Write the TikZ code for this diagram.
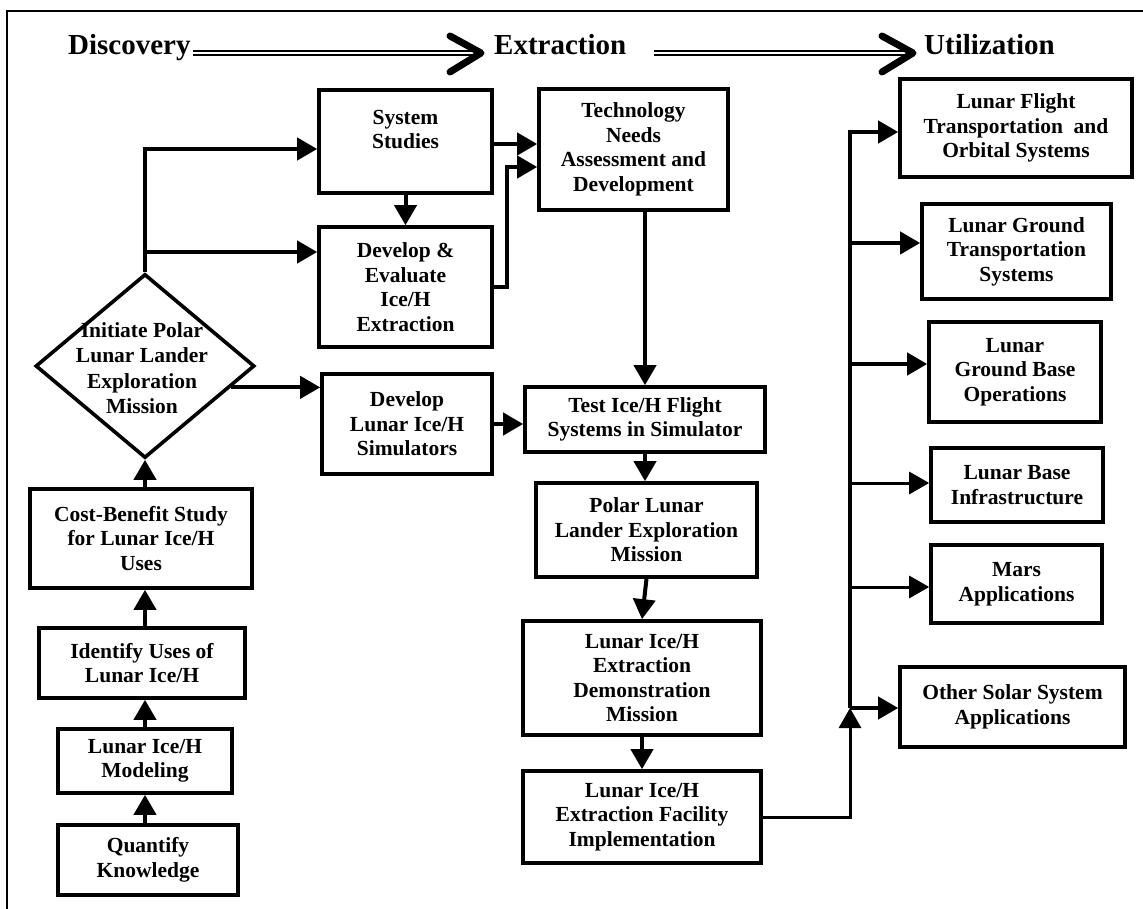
\documentclass[tikz,border=0pt]{standalone}
\usepackage{fontspec}
\setmainfont{Liberation Serif}
\usetikzlibrary{arrows.meta,shapes.geometric,calc}
\begin{document}
\begin{tikzpicture}[x=1pt,y=-1pt,
  box/.style={draw, line width=3.6pt, inner sep=0pt, align=center, font=\bfseries\fontsize{21.5}{24.5}\selectfont},
  arr/.style={line width=4pt, -{Triangle[length=20pt,width=22pt]}},
  tarr/.style={line width=3pt, -{Triangle[length=20pt,width=22pt]}},
  hdr/.style={font=\bfseries\fontsize{29}{34}\selectfont, inner sep=0pt, anchor=base west},
  dbl/.style={double, double distance=2.2pt, line width=1.8pt},
  chev/.style={line width=7pt, line cap=round, line join=round}]
\useasboundingbox (0,0) rectangle (1143,909);
% frame
\draw[line width=2.4pt] (7,909) -- (7,11) -- (1143,11);
% header
\node[hdr] (disc) at (68,55) {Discovery};
\node[hdr] (extr) at (494,55) {Extraction};
\node[hdr] (util) at (924,55) {Utilization};
\coordinate (h1) at (481,53);
\coordinate (h2) at (913,53);
\draw[dbl] ([xshift=2pt,yshift=2pt]disc.base east) -- ([xshift=-4pt]h1);
\draw[chev] ($(h1)+(-31,-17)$) -- (h1) -- ($(h1)+(-31,19)$);
\draw[dbl] ([xshift=28pt,yshift=2pt]extr.base east) -- ([xshift=-4pt]h2);
\draw[chev] ($(h2)+(-31,-17)$) -- (h2) -- ($(h2)+(-31,19)$);
% boxes
\node[box, minimum width=173pt, minimum height=103pt] (SS) at (405.5,141.5) {System\\Studies\\\mbox{}};
\node[box, minimum width=189pt, minimum height=121pt] (Tech) at (633.5,149.5) {Technology\\Needs\\Assessment and\\Development};
\node[box, minimum width=173pt, minimum height=120pt] (DE) at (405.5,287) {Develop \&\\Evaluate\\Ice/H\\Extraction};
\node[box, minimum width=170pt, minimum height=100pt] (DLS) at (407,424) {Develop\\Lunar Ice/H\\Simulators};
\node[box, minimum width=240pt, minimum height=65pt] (Test) at (645,419.5) {Test Ice/H Flight\\Systems in Simulator};
\node[box, minimum width=221pt, minimum height=94pt] (Polar) at (646.5,530) {Polar Lunar\\Lander Exploration\\Mission};
\node[box, minimum width=238pt, minimum height=114pt] (Demo) at (642,678) {Lunar Ice/H\\Extraction\\Demonstration\\Mission};
\node[box, minimum width=238pt, minimum height=92pt] (Impl) at (642,817) {Lunar Ice/H\\Extraction Facility\\Implementation};
\node[box, minimum width=232pt, minimum height=98pt] (Flight) at (1016,128) {Lunar Flight\\Transportation\ \ and\\Orbital Systems};
\node[box, minimum width=189pt, minimum height=95pt] (LGT) at (1016.5,251.5) {Lunar Ground\\Transportation\\Systems};
\node[box, minimum width=172pt, minimum height=100pt] (Ops) at (1015,372) {Lunar\\Ground Base\\Operations};
\node[box, minimum width=172pt, minimum height=74pt] (Infra) at (1017,485) {Lunar Base\\Infrastructure};
\node[box, minimum width=171pt, minimum height=78pt] (Mars) at (1016.5,584) {Mars\\Applications};
\node[box, minimum width=225pt, minimum height=80pt] (Other) at (1012.5,707) {Other Solar System\\Applications};
\node[box, minimum width=222pt, minimum height=99pt] (CB) at (141,538.5) {Cost-Benefit Study\\for Lunar Ice/H\\Uses};
\node[box, minimum width=206pt, minimum height=70pt] (ID) at (142,663) {Identify Uses of\\Lunar Ice/H};
\node[box, minimum width=174pt, minimum height=64pt] (Mod) at (145,761) {Lunar Ice/H\\Modeling};
\node[box, minimum width=180pt, minimum height=70pt] (Quant) at (148,860) {Quantify\\Knowledge};
% diamond
\node[draw, diamond, line width=3.6pt, minimum width=219pt, minimum height=184pt, inner sep=0pt] (dia) at (145,366) {};
\node[align=center, inner sep=0pt, font=\bfseries\fontsize{21.5}{25.5}\selectfont] (diat) at (142,368) {Initiate Polar\\Lunar Lander\\Exploration\\Mission};
% connectors
\coordinate (j1) at (145,149);
\coordinate (j2) at (145,252);
\draw[arr] (dia.north) -- (j1) -- (j1 -| SS.west);
\draw[arr] (j2) -- (j2 -| DE.west);
\draw[arr] (SS.south) -- (DE.north);
\draw[arr] ([yshift=-2.5pt]SS.east) -- ([yshift=-2.5pt]SS.east -| Tech.west);
\coordinate (j4) at (507,167);
\draw[arr] (DE.east) -| (j4) -- (j4 -| Tech.west);
\draw[arr] (Test.north |- Tech.south) -- (Test.north);
\coordinate (j5) at ($(dia.east)!0.228!(dia.south)$);
\draw[arr] (j5) -- (j5 -| DLS.west);
\draw[arr] (DLS.east) -- (DLS.east -| Test.west);
\draw[arr] (Test.south) -- (Test.south |- Polar.north);
\draw[arr] (Polar.south) -- (Demo.north);
\draw[arr] (Demo.south) -- (Impl.north);
% utilization bus
\coordinate (b0) at (850,132);
\coordinate (b1) at (850,243);
\coordinate (b2) at (850,364);
\coordinate (b3) at (850,483);
\coordinate (b4) at (850,587);
\coordinate (b6) at (850,708);
\draw[arr] (b6) -- (b0) -- (b0 -| Flight.west);
\draw[arr] (b1) -- (b1 -| LGT.west);
\draw[arr] (b2) -- (b2 -| Ops.west);
\draw[tarr] (b3) -- (b3 -| Infra.west);
\draw[tarr] (b4) -- (b4 -| Mars.west);
\draw[arr] (b6) -- (b6 -| Other.west);
\draw[tarr] (Impl.east) -| (b6);
% discovery column
\draw[arr] (dia.south |- CB.north) -- (dia.south);
\draw[arr] (dia.south |- ID.north) -- (dia.south |- CB.south);
\draw[arr] (dia.south |- Mod.north) -- (dia.south |- ID.south);
\draw[arr] (dia.south |- Quant.north) -- (dia.south |- Mod.south);
\end{tikzpicture}
\end{document}
